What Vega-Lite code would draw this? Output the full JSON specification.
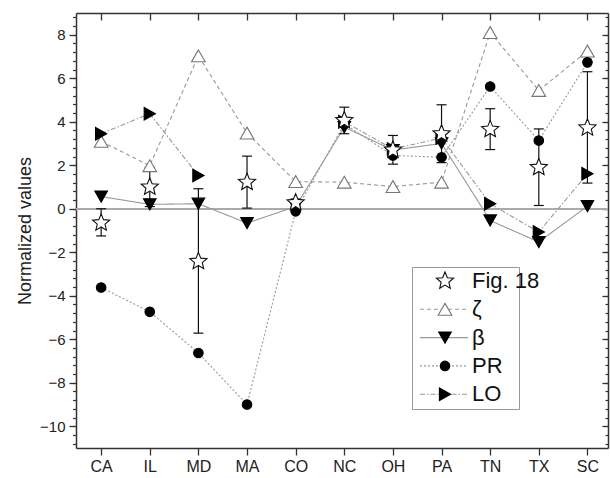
{
  "$schema": "https://vega.github.io/schema/vega-lite/v6.json",
  "width": 532,
  "height": 435,
  "autosize": "none",
  "padding": {"left": 76, "top": 13, "right": 2, "bottom": 30},
  "background": "white",
  "config": {"view": {"stroke": null}, "font": "Liberation Sans"},
  "data": {"values": [
    {"state": "CA", "series": "ζ", "value": 3.1, "seg": "1"},
    {"state": "IL", "series": "ζ", "value": 1.98, "seg": "1"},
    {"state": "MD", "series": "ζ", "value": 7.03, "seg": "1"},
    {"state": "MA", "series": "ζ", "value": 3.48, "seg": "1"},
    {"state": "CO", "series": "ζ", "value": 1.25, "seg": "1"},
    {"state": "NC", "series": "ζ", "value": 1.22, "seg": "1"},
    {"state": "OH", "series": "ζ", "value": 1.02, "seg": "1"},
    {"state": "PA", "series": "ζ", "value": 1.22, "seg": "1"},
    {"state": "TN", "series": "ζ", "value": 8.1, "seg": "1"},
    {"state": "TX", "series": "ζ", "value": 5.44, "seg": "1"},
    {"state": "SC", "series": "ζ", "value": 7.25, "seg": "1"},
    {"state": "CA", "series": "β", "value": 0.56, "seg": "1"},
    {"state": "IL", "series": "β", "value": 0.2, "seg": "1"},
    {"state": "MD", "series": "β", "value": 0.23, "seg": "1"},
    {"state": "MA", "series": "β", "value": -0.66, "seg": "1"},
    {"state": "CO", "series": "β", "value": 0.1, "seg": "1"},
    {"state": "NC", "series": "β", "value": 3.75, "seg": "1"},
    {"state": "OH", "series": "β", "value": 2.7, "seg": "1"},
    {"state": "PA", "series": "β", "value": 3.0, "seg": "1"},
    {"state": "TN", "series": "β", "value": -0.54, "seg": "1"},
    {"state": "TX", "series": "β", "value": -1.53, "seg": "1"},
    {"state": "SC", "series": "β", "value": 0.12, "seg": "1"},
    {"state": "CA", "series": "PR", "value": -3.62, "seg": "1"},
    {"state": "IL", "series": "PR", "value": -4.74, "seg": "1"},
    {"state": "MD", "series": "PR", "value": -6.63, "seg": "1"},
    {"state": "MA", "series": "PR", "value": -9.0, "seg": "1"},
    {"state": "CO", "series": "PR", "value": -0.12, "seg": "1"},
    {"state": "NC", "series": "PR", "value": 3.9, "seg": "1"},
    {"state": "OH", "series": "PR", "value": 2.45, "seg": "1"},
    {"state": "PA", "series": "PR", "value": 2.37, "seg": "1"},
    {"state": "TN", "series": "PR", "value": 5.62, "seg": "1"},
    {"state": "TX", "series": "PR", "value": 3.14, "seg": "1"},
    {"state": "SC", "series": "PR", "value": 6.73, "seg": "1"},
    {"state": "CA", "series": "LO", "value": 3.45, "seg": "1"},
    {"state": "IL", "series": "LO", "value": 4.37, "seg": "1"},
    {"state": "MD", "series": "LO", "value": 1.53, "seg": "1"},
    {"state": "NC", "series": "LO", "value": 4.0, "seg": "2"},
    {"state": "OH", "series": "LO", "value": 2.75, "seg": "2"},
    {"state": "PA", "series": "LO", "value": 3.25, "seg": "2"},
    {"state": "TN", "series": "LO", "value": 0.23, "seg": "2"},
    {"state": "TX", "series": "LO", "value": -1.07, "seg": "2"},
    {"state": "SC", "series": "LO", "value": 1.61, "seg": "2"},
    {"state": "CA", "series": "Fig. 18", "value": -0.65, "lo": -1.25, "hi": 0.0, "seg": "1"},
    {"state": "IL", "series": "Fig. 18", "value": 1.0, "lo": 0.1, "hi": 1.9, "seg": "1"},
    {"state": "MD", "series": "Fig. 18", "value": -2.42, "lo": -5.72, "hi": 0.92, "seg": "1"},
    {"state": "MA", "series": "Fig. 18", "value": 1.22, "lo": 0.03, "hi": 2.42, "seg": "1"},
    {"state": "CO", "series": "Fig. 18", "value": 0.28, "lo": 0.1, "hi": 0.45, "seg": "1"},
    {"state": "NC", "series": "Fig. 18", "value": 4.06, "lo": 3.45, "hi": 4.67, "seg": "1"},
    {"state": "OH", "series": "Fig. 18", "value": 2.7, "lo": 2.05, "hi": 3.37, "seg": "1"},
    {"state": "PA", "series": "Fig. 18", "value": 3.45, "lo": 2.12, "hi": 4.78, "seg": "1"},
    {"state": "TN", "series": "Fig. 18", "value": 3.65, "lo": 2.72, "hi": 4.6, "seg": "1"},
    {"state": "TX", "series": "Fig. 18", "value": 1.9, "lo": 0.15, "hi": 3.67, "seg": "1"},
    {"state": "SC", "series": "Fig. 18", "value": 3.72, "lo": 1.18, "hi": 6.3, "seg": "1"}
  ]},
  "resolve": {"axis": {"x": "independent", "y": "independent"}},
  "layer": [
    {
      "mark": {"type": "rule", "color": "#aaaaaa", "strokeWidth": 1.5},
      "encoding": {"y": {"datum": 0, "type": "quantitative", "axis": null}}
    },
    {
      "transform": [{"filter": "datum.series !== 'Fig. 18'"}],
      "mark": {"type": "line", "color": "#999999", "strokeWidth": 1.1},
      "encoding": {
        "x": {"field": "state", "type": "nominal",
          "scale": {"type": "point", "domain": ["CA","IL","MD","MA","CO","NC","OH","PA","TN","TX","SC"], "padding": 0.47, "align": 0.55},
          "axis": {"orient": "bottom", "title": null, "labelAngle": 0, "labelFontSize": 16, "labelColor": "#222", "labelPadding": 3, "tickSize": 7, "tickWidth": 1.3, "tickColor": "#333", "domainColor": "#333", "domainWidth": 1.5, "grid": false}},
        "y": {"field": "value", "type": "quantitative",
          "scale": {"domain": [-11, 9], "nice": false, "zero": false},
          "axis": {"orient": "left", "values": [-10,-8,-6,-4,-2,0,2,4,6,8], "title": "Normalized values", "titleFontSize": 18, "titleFontWeight": "normal", "titleColor": "#222", "titlePadding": 5, "labelFontSize": 15, "labelColor": "#222", "labelPadding": 4, "tickSize": 7, "tickWidth": 1.3, "tickColor": "#333", "domainColor": "#333", "domainWidth": 1.5, "grid": false}},
        "detail": {"field": "seg"},
        "strokeDash": {"field": "series", "type": "nominal",
          "scale": {"domain": ["Fig. 18 ","ζ","β","PR","LO"], "range": [[0,100],[4,3],[1,0],[2,2],[5,2,1.5,2]]},
          "legend": {"orient": "none", "legendX": 336, "legendY": 254, "title": null, "padding": 8, "rowPadding": 16.3, "strokeColor": "#999", "symbolType": "M-4.8,0L4.8,0", "symbolSize": 100, "symbolStrokeWidth": 1.1, "symbolOffset": 18, "labelOffset": 21, "labelFontSize": 12, "labelFont": "DejaVu Sans", "labelOpacity": 0, "labelExpr": "'Fig. 18'", "zindex": 0}}
      }
    },
    {
      "transform": [{"filter": "datum.series === 'Fig. 18'"}],
      "mark": {"type": "rule", "color": "#111111", "strokeWidth": 1.2},
      "encoding": {
        "x": {"field": "state", "type": "nominal",
          "axis": {"orient": "top", "title": null, "labels": false, "tickSize": -7, "tickWidth": 1.3, "tickColor": "#333", "domainColor": "#333", "domainWidth": 1.5, "grid": false}},
        "y": {"field": "lo", "type": "quantitative",
          "axis": {"orient": "left", "values": [-10.8,-10.4,-10,-9.6,-9.2,-8.8,-8.4,-8,-7.6,-7.2,-6.8,-6.4,-6,-5.6,-5.2,-4.8,-4.4,-4,-3.6,-3.2,-2.8,-2.4,-2,-1.6,-1.2,-0.8,-0.4,0,0.4,0.8,1.2,1.6,2,2.4,2.8,3.2,3.6,4,4.4,4.8,5.2,5.6,6,6.4,6.8,7.2,7.6,8,8.4,8.8], "title": null, "labels": false, "domain": false, "tickSize": 3.5, "tickWidth": 1.2, "tickColor": "#333", "grid": false}},
        "y2": {"field": "hi"}
      }
    },
    {
      "transform": [{"filter": "datum.series === 'Fig. 18'"}],
      "mark": {"type": "tick", "color": "#111111", "size": 10, "thickness": 1.2, "opacity": 1},
      "encoding": {
        "x": {"field": "state", "type": "nominal", "axis": null},
        "y": {"field": "lo", "type": "quantitative",
          "axis": {"orient": "right", "values": [-10,-8,-6,-4,-2,0,2,4,6,8], "title": null, "labels": false, "tickSize": -6, "tickWidth": 1.3, "tickColor": "#333", "domainColor": "#333", "domainWidth": 1.5, "grid": false}}
      }
    },
    {
      "transform": [{"filter": "datum.series === 'Fig. 18'"}],
      "mark": {"type": "tick", "color": "#111111", "size": 10, "thickness": 1.2, "opacity": 1},
      "encoding": {
        "x": {"field": "state", "type": "nominal", "axis": null},
        "y": {"field": "hi", "type": "quantitative",
          "axis": {"orient": "right", "values": [-10.8,-10.4,-10,-9.6,-9.2,-8.8,-8.4,-8,-7.6,-7.2,-6.8,-6.4,-6,-5.6,-5.2,-4.8,-4.4,-4,-3.6,-3.2,-2.8,-2.4,-2,-1.6,-1.2,-0.8,-0.4,0,0.4,0.8,1.2,1.6,2,2.4,2.8,3.2,3.6,4,4.4,4.8,5.2,5.6,6,6.4,6.8,7.2,7.6,8,8.4,8.8], "title": null, "labels": false, "domain": false, "tickSize": -3, "tickWidth": 1.2, "tickColor": "#333", "grid": false}}
      }
    },
    {
      "mark": {"type": "point", "filled": true, "size": 324, "strokeWidth": 1.1, "opacity": 1},
      "encoding": {
        "x": {"field": "state", "type": "nominal", "axis": null},
        "y": {"field": "value", "type": "quantitative", "axis": null},
        "shape": {"field": "series", "type": "nominal",
          "scale": {"domain": ["Fig. 18","ζ","β","PR","LO"], "range": [
            "M0,-1L0.2645,-0.364L0.951,-0.309L0.428,0.139L0.588,0.809L0,0.45L-0.588,0.809L-0.428,0.139L-0.951,-0.309L-0.2645,-0.364Z",
            "M0,-0.66L0.76,0.66L-0.76,0.66Z",
            "M0,0.62L0.7,-0.62L-0.7,-0.62Z",
            "M-0.53,0A0.53,0.53 0 1,0 0.53,0A0.53,0.53 0 1,0 -0.53,0Z",
            "M0.62,0L-0.62,0.7L-0.62,-0.7Z"]},
          "legend": {"orient": "none", "legendX": 336, "legendY": 253.5, "title": null, "padding": 3.5, "rowPadding": 6.3, "symbolSize": 324, "symbolStrokeWidth": 1.1, "symbolOffset": 18.5, "labelOffset": 16, "labelFontSize": 22, "labelColor": "#111", "zindex": 1}},
        "fill": {"field": "series", "type": "nominal",
          "scale": {"domain": ["Fig. 18","ζ","β","PR","LO"], "range": ["#ffffff","#ffffff","#000000","#000000","#000000"]}},
        "stroke": {"field": "series", "type": "nominal",
          "scale": {"domain": ["Fig. 18","ζ","β","PR","LO"], "range": ["#111111","#777777","#000000","#000000","#000000"]}}
      }
    }
  ]
}
